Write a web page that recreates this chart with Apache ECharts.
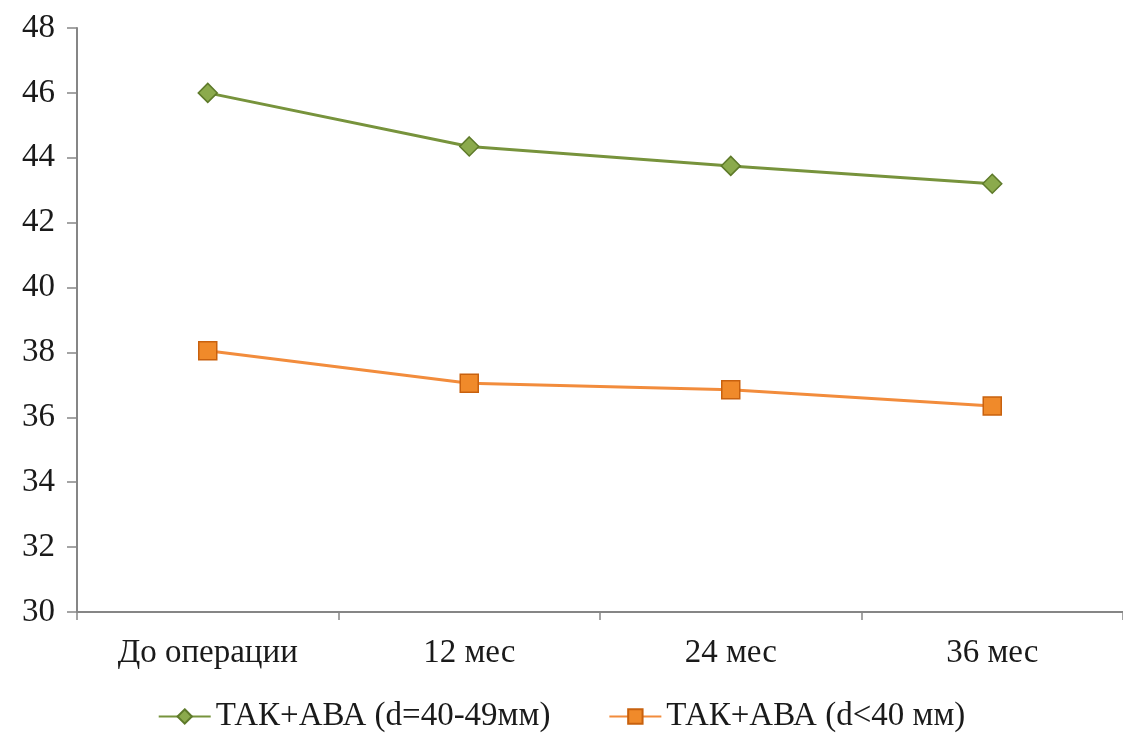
<!DOCTYPE html>
<html><head><meta charset="utf-8">
<script src="https://cdn.jsdelivr.net/npm/echarts@6/dist/echarts.min.js"></script>
<style>html,body{margin:0;padding:0;background:#fff}#c{width:1123px;height:733px}</style>
</head><body><div id="c"></div>
<script>
const categories = ['До операции', '12 мес', '24 мес', '36 мес'];
const seriesNames = ['ТАК+АВА (d=40-49мм)', 'ТАК+АВА (d<40 мм)'];
const greenValues = [46.0, 44.35, 43.75, 43.2];
const orangeValues = [38.05, 37.05, 36.85, 36.35];
const yTicks = [30, 48, 2];

const chart = echarts.init(document.getElementById('c'));
const font = 'Liberation Serif';
chart.setOption({
  animation: false,
  grid: {left: 77, right: -5, top: 28, bottom: 121},
  xAxis: {
    type: 'category', data: categories, boundaryGap: true,
    axisLine: {lineStyle: {color: '#868686', width: 2}},
    axisTick: {show: true, length: 8, lineStyle: {color: '#868686', width: 1.5}},
    axisLabel: {color: '#1a1a1a', fontFamily: font, fontSize: 33, margin: 25}
  },
  yAxis: {
    type: 'value', min: yTicks[0], max: yTicks[1], interval: yTicks[2],
    axisLine: {show: true, lineStyle: {color: '#868686', width: 2}},
    axisTick: {show: true, length: 10, lineStyle: {color: '#868686', width: 1.5}},
    splitLine: {show: false},
    axisLabel: {color: '#1a1a1a', fontFamily: font, fontSize: 33, margin: 22}
  },
  legend: {
    top: 695, left: 'center', itemGap: 58, itemWidth: 52, itemHeight: 18,
    textStyle: {fontFamily: font, fontSize: 33, color: '#1a1a1a'},
    data: seriesNames
  },
  series: [
    {name: seriesNames[0], type: 'line', data: greenValues,
     symbol: 'diamond', symbolSize: 19,
     lineStyle: {color: '#77933C', width: 3},
     itemStyle: {color: '#8BAA4C', borderColor: '#5E7A2A', borderWidth: 1.5}},
    {name: seriesNames[1], type: 'line', data: orangeValues,
     symbol: 'rect', symbolSize: 18,
     lineStyle: {color: '#F28C3C', width: 3},
     itemStyle: {color: '#F08A2A', borderColor: '#C8610E', borderWidth: 1.5}}
  ]
});
</script></body></html>
